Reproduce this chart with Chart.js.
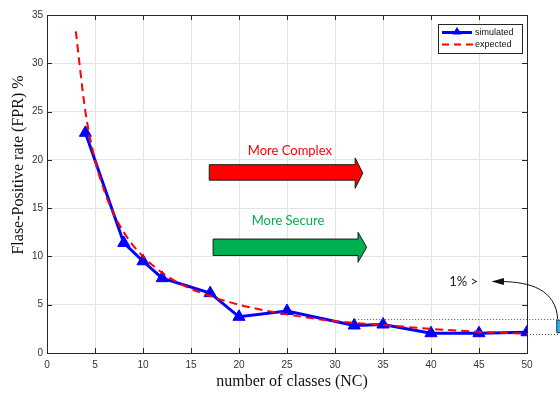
<!DOCTYPE html>
<html>
<head>
<meta charset="utf-8">
<script src="https://cdn.jsdelivr.net/npm/chart.js@4/dist/chart.umd.min.js"></script>
<style>
  html, body { margin: 0; padding: 0; background: #ffffff; }
  #wrap { width: 560px; height: 394px; position: relative; }
</style>
</head>
<body>
<div id="wrap"><canvas id="c" width="560" height="394"></canvas></div>
<script>
// ---- data ----
const simulatedNC  = [4, 8, 10, 12, 17, 20, 25, 32, 35, 40, 45, 50];
const simulatedFPR = [22.8, 11.4, 9.5, 7.75, 6.2, 3.75, 4.35, 2.85, 2.95, 2.05, 2.05, 2.15];
const expectedNC   = [3, 4, 5, 6, 7, 8, 9, 10, 12, 14, 17, 20, 25, 30, 35, 40, 45, 50];
const expectedFPR  = [33.3, 25.0, 20.0, 16.7, 14.3, 12.5, 11.1, 10.0, 8.3, 7.1, 5.9, 5.0, 4.0, 3.3, 2.9, 2.5, 2.2, 2.0];
const xTicks = [0, 5, 10, 15, 20, 25, 30, 35, 40, 45, 50];
const yTicks = [0, 5, 10, 15, 20, 25, 30, 35];
const seriesNames = ['simulated', 'expected'];
const xTitle = 'number of classes (NC)';
const yTitle = 'Flase-Positive rate (FPR) %';
const labelComplex = 'More Complex';
const labelSecure = 'More Secure';
const labelOnePct = '1% >';

const AXIS = '#262626';

const decor = {
  id: 'decor',
  afterDraw(chart) {
    const ctx = chart.ctx;
    const xs = chart.scales.x, ys = chart.scales.y;
    const a = chart.chartArea;
    const X = v => xs.getPixelForValue(v);
    const Y = v => ys.getPixelForValue(v);
    ctx.save();
    // box + inward ticks
    ctx.strokeStyle = AXIS;
    ctx.lineWidth = 1;
    ctx.beginPath();
    ctx.rect(Math.round(a.left) + 0.5, Math.round(a.top) + 0.5, Math.round(a.right - a.left), Math.round(a.bottom - a.top));
    ctx.stroke();
    ctx.beginPath();
    xTicks.forEach(v => {
      const p = Math.round(X(v)) + 0.5;
      ctx.moveTo(p, a.bottom); ctx.lineTo(p, a.bottom - 5);
      ctx.moveTo(p, a.top); ctx.lineTo(p, a.top + 5);
    });
    yTicks.forEach(v => {
      const p = Math.round(Y(v)) + 0.5;
      ctx.moveTo(a.left, p); ctx.lineTo(a.left + 5, p);
      ctx.moveTo(a.right, p); ctx.lineTo(a.right - 5, p);
    });
    ctx.stroke();

    // axis titles
    ctx.fillStyle = '#111';
    ctx.font = '16px "Liberation Serif", "DejaVu Serif", serif';
    ctx.textAlign = 'center';
    ctx.textBaseline = 'middle';
    ctx.fillText(xTitle, 292, 382);
    ctx.save();
    ctx.translate(18.5, 165);
    ctx.rotate(-Math.PI / 2);
    ctx.fillText(yTitle, 0, 0);
    ctx.restore();

    // block arrows
    function blockArrow(x0, x1, tip, yT, yB, hT, hB, fill) {
      ctx.beginPath();
      ctx.moveTo(X(x0), Y(yT));
      ctx.lineTo(X(x1), Y(yT));
      ctx.lineTo(X(x1), Y(hT));
      ctx.lineTo(X(tip), (Y(hT) + Y(hB)) / 2);
      ctx.lineTo(X(x1), Y(hB));
      ctx.lineTo(X(x1), Y(yB));
      ctx.lineTo(X(x0), Y(yB));
      ctx.closePath();
      ctx.fillStyle = fill;
      ctx.fill();
      ctx.strokeStyle = '#1a1a1a';
      ctx.lineWidth = 1;
      ctx.stroke();
    }
    blockArrow(16.9, 32.1, 32.9, 19.5, 17.9, 20.2, 17.05, '#ff0000');
    blockArrow(17.3, 32.4, 33.3, 11.8, 10.1, 12.5, 9.4, '#00b050');

    ctx.font = '13px Lato, "Open Sans", sans-serif';
    ctx.textAlign = 'center';
    ctx.textBaseline = 'middle';
    ctx.fillStyle = '#ff0000';
    ctx.fillText(labelComplex, X(25.3), Y(20.9));
    ctx.fillStyle = '#00b050';
    ctx.fillText(labelSecure, X(25.1), Y(13.7));

    // 1% annotation
    ctx.strokeStyle = '#555';
    ctx.lineWidth = 1;
    ctx.setLineDash([1, 2]);
    ctx.beginPath();
    ctx.moveTo(X(32.1), Math.round(Y(3.5)) + 0.5); ctx.lineTo(X(53.3), Math.round(Y(3.5)) + 0.5);
    ctx.moveTo(X(50), Math.round(Y(2.0)) + 0.5); ctx.lineTo(X(53.3), Math.round(Y(2.0)) + 0.5);
    ctx.stroke();
    ctx.setLineDash([]);

    ctx.fillStyle = '#1fb6ea';
    ctx.strokeStyle = '#1b3550';
    ctx.beginPath();
    ctx.rect(X(53.1), Y(3.4), 8, Y(2.1) - Y(3.4));
    ctx.fill(); ctx.stroke();

    ctx.strokeStyle = '#111';
    ctx.beginPath();
    ctx.moveTo(X(53.2), Y(3.5));
    ctx.bezierCurveTo(X(53.0), Y(6.6), X(50.3), Y(7.35), X(47.4), Y(7.4));
    ctx.stroke();
    ctx.fillStyle = '#111';
    ctx.beginPath();
    ctx.moveTo(X(46.3), Y(7.4));
    ctx.lineTo(X(47.6), Y(7.4) - 3.5);
    ctx.lineTo(X(47.6), Y(7.4) + 3.5);
    ctx.closePath();
    ctx.fill();

    ctx.font = '13px Lato, "Open Sans", sans-serif';
    ctx.textAlign = 'left';
    ctx.fillStyle = '#222';
    ctx.fillText(labelOnePct, X(41.9), Y(7.4));

    // legend
    const lx = 438.5, ly = 24.5, lw = 84, lh = 29;
    ctx.fillStyle = '#fff';
    ctx.fillRect(lx, ly, lw, lh);
    ctx.strokeStyle = AXIS;
    ctx.lineWidth = 1;
    ctx.strokeRect(lx, ly, lw, lh);
    ctx.strokeStyle = '#0000ff';
    ctx.lineWidth = 3;
    ctx.beginPath(); ctx.moveTo(442, 32.5); ctx.lineTo(472, 32.5); ctx.stroke();
    ctx.fillStyle = '#0000ff';
    ctx.beginPath(); ctx.moveTo(457, 27); ctx.lineTo(461.5, 34.5); ctx.lineTo(452.5, 34.5); ctx.closePath(); ctx.fill();
    ctx.strokeStyle = '#ff0000';
    ctx.lineWidth = 2;
    ctx.setLineDash([7, 5]);
    ctx.beginPath(); ctx.moveTo(442, 44.5); ctx.lineTo(474, 44.5); ctx.stroke();
    ctx.setLineDash([]);
    ctx.fillStyle = '#111';
    ctx.font = '9px "Liberation Sans", Arial, sans-serif';
    ctx.textAlign = 'left';
    ctx.textBaseline = 'middle';
    ctx.fillText(seriesNames[0], 475, 33);
    ctx.fillText(seriesNames[1], 475, 45);
    ctx.restore();
  }
};

new Chart(document.getElementById('c'), {
  type: 'line',
  data: {
    datasets: [
      {
        label: seriesNames[0],
        data: simulatedNC.map((x, i) => ({ x, y: simulatedFPR[i] })),
        borderColor: '#0000ff',
        backgroundColor: '#0000ff',
        borderWidth: 3,
        pointStyle: 'triangle',
        pointRadius: 7,
        pointBorderWidth: 1,
        tension: 0,
        order: 2
      },
      {
        label: seriesNames[1],
        data: expectedNC.map((x, i) => ({ x, y: expectedFPR[i] })),
        borderColor: '#ff0000',
        borderWidth: 2,
        borderDash: [8, 5],
        pointRadius: 0,
        cubicInterpolationMode: 'monotone',
        order: 1
      }
    ]
  },
  options: {
    responsive: false,
    animation: false,
    devicePixelRatio: 1,
    layout: { padding: { left: 0, right: 33, top: 15, bottom: 0 } },
    plugins: { legend: { display: false }, tooltip: { enabled: false }, title: { display: false } },
    scales: {
      x: {
        type: 'linear', min: 0, max: 50,
        afterBuildTicks: s => { s.ticks = xTicks.map(v => ({ value: v })); },
        afterFit: s => { s.height = 41; },
        grid: { color: '#e3e3e3', drawTicks: false },
        border: { display: true, color: AXIS },
        ticks: { padding: 6, color: '#333', font: { family: '"Liberation Sans", Arial, sans-serif', size: 10 }, maxRotation: 0 }
      },
      y: {
        type: 'linear', min: 0, max: 35,
        afterBuildTicks: s => { s.ticks = yTicks.map(v => ({ value: v })); },
        afterFit: s => { s.width = 47; },
        grid: { color: '#e3e3e3', drawTicks: false },
        border: { display: true, color: AXIS },
        ticks: { padding: 4, color: '#333', font: { family: '"Liberation Sans", Arial, sans-serif', size: 10 } }
      }
    }
  },
  plugins: [decor]
});
</script>
</body>
</html>
